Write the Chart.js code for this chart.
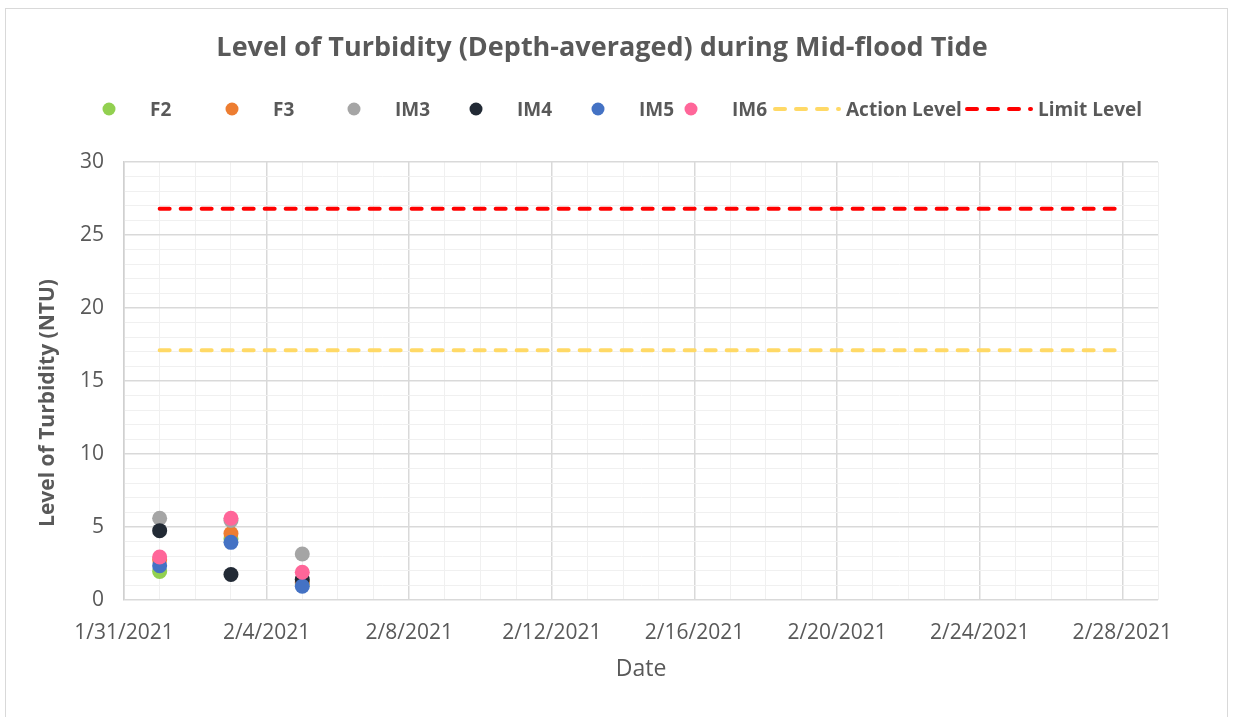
<!DOCTYPE html>
<html>
<head>
<meta charset="utf-8">
<script src="https://cdn.jsdelivr.net/npm/chart.js@4.4.1/dist/chart.umd.min.js"></script>
<style>
  body { margin: 0; background: #fff; }
  #frame { position: absolute; left: 5px; top: 8px; width: 1223px; height: 720px; border: 1px solid #d9d9d9; box-sizing: border-box; }
  #wrap { position: absolute; left: 0; top: 0; width: 1233px; height: 717px; }
</style>
</head>
<body>
<div id="frame"></div>
<div id="wrap"><canvas id="chart"></canvas></div>
<script>
// sampling dates and the turbidity readings for each station (NTU)
let dates = ['2021-02-01', '2021-02-03', '2021-02-05']
let f2 = [1.95, 4.2, 1.1]
let f3 = [2.75, 4.55, 1.2]
let im3 = [5.6, 5.45, 3.15]
let im4 = [4.75, 1.75, 1.4]
let im5 = [2.35, 3.95, 0.95]
let im6 = [2.95, 5.6, 1.9]
// action / limit levels, drawn from first sampling day to end of month
let levelDates = ['2021-02-01', '2021-02-28']
let actionLevel = 17.1
let limitLevel = 26.8
// axis range
let startDate = '2021-01-31'
let endDate = '2021-03-01'
let yMax = 30

let dayMs = 86400000
let base = Date.parse(startDate)
//turn a date string into days since the start of the axis
let toDay = function(d) {
    return Math.round((Date.parse(d) - base) / dayMs)
}

let seriesNames = ['F2', 'F3', 'IM3', 'IM4', 'IM5', 'IM6']
let seriesValues = [f2, f3, im3, im4, im5, im6]
let seriesColors = ['#92d050', '#ed7d31', '#a5a5a5', '#222a35', '#4472c4', '#ff6699']

let datasets = []
for (let i = 0; i < seriesNames.length; i++) {
    datasets.push({
        type: 'scatter',
        label: seriesNames[i],
        data: dates.map((d, j) => ({ x: toDay(d), y: seriesValues[i][j] })),
        backgroundColor: seriesColors[i],
        borderWidth: 0,
        pointRadius: 7.5,
        pointHoverRadius: 7.5,
        // later stations are painted on top like in the original
        order: 20 - i
    })
}
datasets.push({
    type: 'line',
    label: 'Action Level',
    data: levelDates.map(d => ({ x: toDay(d), y: actionLevel })),
    borderColor: '#ffd966',
    borderWidth: 4,
    borderDash: [10, 11],
    borderCapStyle: 'round',
    pointRadius: 0,
    order: 2
})
datasets.push({
    type: 'line',
    label: 'Limit Level',
    data: levelDates.map(d => ({ x: toDay(d), y: limitLevel })),
    borderColor: '#ff0000',
    borderWidth: 4,
    borderDash: [10, 11],
    borderCapStyle: 'round',
    pointRadius: 0,
    order: 1
})

let fontFamily = '"Open Sans", sans-serif'
let textColor = '#595959'

//format a day offset back into m/d/yyyy
let dayLabel = function(v) {
    let d = new Date(base + v * dayMs)
    return (d.getUTCMonth() + 1) + '/' + d.getUTCDate() + '/' + d.getUTCFullYear()
}

// title, legend and y title drawn by hand so the layout follows the original
let decorPlugin = {
    id: 'decor',
    afterDraw(chart) {
        let c = chart.ctx
        c.save()
        c.fillStyle = textColor
        c.textBaseline = 'middle'
        c.textAlign = 'center'
        c.font = 'bold 27px ' + fontFamily
        c.fillText('Level of Turbidity (Depth-averaged) during Mid-flood Tide', 602, 48)

        // y axis title
        c.save()
        c.translate(48, 403)
        c.rotate(-Math.PI / 2)
        c.font = 'bold 21px ' + fontFamily
        c.fillText('Level of Turbidity (NTU)', 0, 0)
        c.restore()

        let legendY = 109
        let keyX = [109, 232, 354, 476, 598, 691, 773, 965]
        c.font = 'bold 19px ' + fontFamily
        c.textAlign = 'left'
        chart.data.datasets.forEach((ds, i) => {
            let x = keyX[i]
            if (ds.type === 'scatter') {
                c.beginPath()
                c.fillStyle = ds.backgroundColor
                c.arc(x, legendY, 6.5, 0, Math.PI * 2)
                c.fill()
                c.fillStyle = textColor
                c.fillText(ds.label, x + 41, legendY + 2)
            } else {
                c.beginPath()
                c.strokeStyle = ds.borderColor
                c.lineWidth = 4
                c.lineCap = 'round'
                c.setLineDash([10, 11])
                c.moveTo(x + 2, legendY)
                c.lineTo(x + 66, legendY)
                c.stroke()
                c.setLineDash([])
                c.fillStyle = textColor
                c.fillText(ds.label, x + 73, legendY + 2)
            }
        })
        c.restore()
    }
}

let ctx = document.getElementById('chart').getContext('2d')
new Chart(ctx, {
    data: { datasets: datasets },
    options: {
        responsive: true,
        maintainAspectRatio: false,
        animation: false,
        layout: { padding: { top: 162, right: 75, left: 0, bottom: 0 } },
        plugins: {
            legend: { display: false },
            title: { display: false },
            tooltip: { enabled: false }
        },
        scales: {
            x: {
                type: 'linear',
                min: 0,
                max: toDay(endDate),
                afterFit: s => { s.height = 117 },
                afterBuildTicks: s => {
                    s.ticks = []
                    for (let v = 0; v <= toDay(endDate); v++) s.ticks.push({ value: v })
                },
                ticks: {
                    autoSkip: false,
                    maxRotation: 0,
                    padding: 20,
                    color: textColor,
                    font: { family: fontFamily, size: 21 },
                    callback: v => (v % 4 === 0 ? dayLabel(v) : '')
                },
                grid: {
                    drawTicks: false,
                    color: c => (c.tick && c.tick.value % 4 === 0 ? '#d9d9d9' : '#f0f0f0'),
                    lineWidth: c => (c.tick && c.tick.value % 4 === 0 ? 1.5 : 1)
                },
                border: { display: false },
                title: {
                    display: true,
                    text: 'Date',
                    color: textColor,
                    font: { family: fontFamily, size: 23 },
                    padding: { top: 0, bottom: 34 }
                }
            },
            y: {
                min: 0,
                max: yMax,
                afterFit: s => { s.width = 124 },
                afterBuildTicks: s => {
                    s.ticks = []
                    for (let v = 0; v <= yMax; v++) s.ticks.push({ value: v })
                },
                ticks: {
                    autoSkip: false,
                    padding: 20,
                    color: textColor,
                    font: { family: fontFamily, size: 21 },
                    callback: v => (v % 5 === 0 ? String(v) : '')
                },
                grid: {
                    drawTicks: false,
                    color: c => (c.tick && c.tick.value % 5 === 0 ? '#d9d9d9' : '#f0f0f0'),
                    lineWidth: c => (c.tick && c.tick.value % 5 === 0 ? 1.5 : 1)
                },
                border: { display: true, color: '#d0d0d0', width: 1.5 },
                title: { display: false }
            }
        }
    },
    plugins: [decorPlugin]
})
</script>
</body>
</html>
